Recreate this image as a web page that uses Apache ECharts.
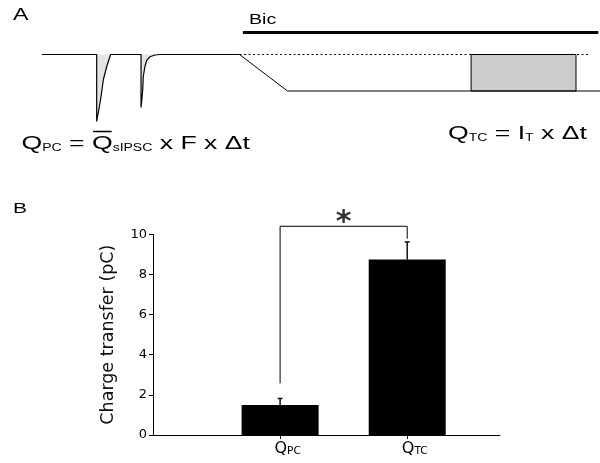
<!DOCTYPE html>
<html>
<head>
<meta charset="utf-8">
<script src="https://cdn.jsdelivr.net/npm/echarts@6/dist/echarts.min.js"></script>
<style>
  html, body { margin: 0; padding: 0; background: #fff; }
  #chart { width: 600px; height: 463px; }
</style>
</head>
<body>
<div id="chart"></div>
<script>
// ---- panel A : schematic traces (time in a.u., current in pA) ----
var sipscTrace = [
	[0, 0], [9.8, 0], [9.8, -67], [10.05, -66], [10.5, -45], [11.0, -25], [11.6, -12], [12.3, 0],
	[17.75, 0], [17.75, -53], [17.95, -52], [18.05, -35.5], [18.15, -22], [18.45, -12], [18.75, -6],
	[19.35, -2.2], [20.25, -0.5], [21.15, 0], [35.4, 0]
];
var bicTrace = [[35.4, 0], [44.0, -36.5], [100, -36.5]];
var baselineRef = [[35.4, 0], [98.2, 0]];
var bicBar = [[36.0, 22], [99.7, 22]];
var tonicWindow = [76.9, 95.7];
var tonicLevel = -36.5;

// ---- panel B : charge transfer ----
var catPos = [1, 2];
var catSub = ['PC', 'TC'];
var charge = [1.5, 8.75];
var chargeErr = [0.32, 0.87];
var bracketTop = 10.4;
var bracketFeet = [2.57, 9.78];
var starY = 10.95;

var chart = echarts.init(document.getElementById('chart'));

var barData = [];
var errData = [];
for (var i = 0; i < catPos.length; i++) {
	barData.push([catPos[i], charge[i]]);
	errData.push([catPos[i], charge[i], charge[i] + chargeErr[i]]);
}
var bracket = [
	[catPos[0], bracketFeet[0]], [catPos[0], bracketTop],
	[catPos[1], bracketTop], [catPos[1], bracketFeet[1]]
];

var stretch = 1.4;  // the original figure is drawn horizontally stretched
var mainFont = '19px "Liberation Sans"';
var subFont = '10px "Liberation Sans"';

// overline over the mean Q: measure where the second Q lands
var ctx = document.createElement('canvas').getContext('2d');
function textW(t, font) {
	ctx.font = font;
	return ctx.measureText(t).width;
}
var eqX = 21.5;
var olStart = eqX + stretch * (textW('Q', mainFont) + textW('PC', subFont) + textW(' = ', mainFont));
var olEnd = olStart + stretch * textW('Q', mainFont);

var eqRich = {
	m: { font: mainFont, fill: '#000', verticalAlign: 'bottom', lineHeight: 22 },
	s: { font: subFont, fill: '#000', verticalAlign: 'bottom', lineHeight: 22 }
};

var option = {
	backgroundColor: '#fff',
	animation: false,
	textStyle: { fontFamily: 'Liberation Sans' },
	grid: [
		{ left: 42, right: 0, top: 24.5, height: 100 },
		{ left: 153, right: 100, top: 234.3, bottom: 28 }
	],
	xAxis: [
		{ gridIndex: 0, type: 'value', min: 0, max: 100, show: false },
		{
			gridIndex: 1, type: 'value', min: 0, max: 2.73,
			splitLine: { show: false },
			axisLine: { lineStyle: { color: '#000', width: 1 } },
			axisTick: { customValues: catPos, length: 4, lineStyle: { color: '#000' } },
			axisLabel: {
				customValues: catPos,
				margin: 5,
				formatter: function (v) {
					var k = catPos.indexOf(v);
					return '{g|}{q|Q}{s|' + catSub[k] + '}';
				},
				rich: {
					g: { width: 15 },
					q: { fontFamily: 'DejaVu Sans', fontSize: 16, color: '#000', verticalAlign: 'bottom', lineHeight: 17 },
					s: { fontFamily: 'DejaVu Sans', fontSize: 10.5, color: '#000', verticalAlign: 'bottom', lineHeight: 17 }
				}
			}
		}
	],
	yAxis: [
		{ gridIndex: 0, type: 'value', min: -70, max: 30, show: false },
		{
			gridIndex: 1, type: 'value', min: 0, max: 10, interval: 2,
			name: 'Charge transfer (pC)',
			nameLocation: 'middle',
			nameGap: 36,
			nameTextStyle: { fontFamily: 'DejaVu Sans', fontSize: 17.5, color: '#111' },
			splitLine: { show: false },
			axisLine: { show: true, lineStyle: { color: '#000', width: 1 } },
			axisTick: { show: true, length: 4, lineStyle: { color: '#000' } },
			axisLabel: { fontFamily: 'DejaVu Sans', fontSize: 13, color: '#000', margin: 6 }
		}
	],
	graphic: [
		{ type: 'text', x: 13, y: 15, scaleX: stretch, style: { text: 'A', font: '16.5px "Liberation Sans"', fill: '#000', verticalAlign: 'middle' } },
		{ type: 'text', x: 249, y: 20, scaleX: stretch, style: { text: 'Bic', font: '14px "Liberation Sans"', fill: '#000', verticalAlign: 'middle' } },
		{ type: 'text', x: 13, y: 208.5, scaleX: stretch, style: { text: 'B', font: '15px "Liberation Sans"', fill: '#000', verticalAlign: 'middle' } },
		{
			type: 'text', x: eqX, y: 153, scaleX: stretch,
			style: {
				text: '{m|Q}{s|PC}{m| = Q}{s|sIPSC}{m| x F x \u0394t}',
				verticalAlign: 'bottom',
				rich: eqRich
			}
		},
		{ type: 'line', shape: { x1: olStart + 1, y1: 131.5, x2: olEnd - 1, y2: 131.5 }, style: { stroke: '#000', lineWidth: 1.5 } },
		{
			type: 'text', x: 448, y: 143, scaleX: stretch,
			style: {
				text: '{m|Q}{s|TC}{m| = I}{s|T}{m| x \u0394t}',
				verticalAlign: 'bottom',
				rich: eqRich
			}
		}
	],
	series: [
		{
			name: 'sIPSCs', type: 'line', xAxisIndex: 0, yAxisIndex: 0,
			data: sipscTrace, symbol: 'none', silent: true,
			lineStyle: { color: '#000', width: 1.2 },
			areaStyle: { color: '#e4e4e4', opacity: 1 }
		},
		{
			name: 'Bic', type: 'line', xAxisIndex: 0, yAxisIndex: 0,
			data: bicTrace, symbol: 'none', silent: true,
			lineStyle: { color: '#000', width: 1 },
			markArea: {
				silent: true,
				itemStyle: { color: '#cccccc', borderColor: '#000', borderWidth: 1 },
				data: [[{ xAxis: tonicWindow[0], yAxis: tonicLevel }, { xAxis: tonicWindow[1], yAxis: 0 }]]
			}
		},
		{
			name: 'baseline', type: 'line', xAxisIndex: 0, yAxisIndex: 0,
			data: baselineRef, symbol: 'none', silent: true, z: 3,
			lineStyle: { color: '#000', width: 1, type: [2, 2.5] }
		},
		{
			name: 'Bic bar', type: 'line', xAxisIndex: 0, yAxisIndex: 0,
			data: bicBar, symbol: 'none', silent: true,
			lineStyle: { color: '#000', width: 3 }
		},
		{
			name: 'charge', type: 'bar', xAxisIndex: 1, yAxisIndex: 1,
			data: barData, barWidth: 77,
			itemStyle: { color: '#000' }
		},
		{
			name: 'sem', type: 'custom', xAxisIndex: 1, yAxisIndex: 1,
			data: errData, z: 3,
			renderItem: function (params, api) {
				var p0 = api.coord([api.value(0), api.value(1)]);
				var p1 = api.coord([api.value(0), api.value(2)]);
				var st = { stroke: '#111', lineWidth: 1.5 };
				return {
					type: 'group',
					children: [
						{ type: 'line', shape: { x1: p0[0], y1: p0[1], x2: p1[0], y2: p1[1] }, style: st },
						{ type: 'line', shape: { x1: p1[0] - 2.5, y1: p1[1], x2: p1[0] + 2.5, y2: p1[1] }, style: st }
					]
				};
			}
		},
		{
			name: 'bracket', type: 'line', xAxisIndex: 1, yAxisIndex: 1,
			data: bracket, symbol: 'none', clip: false, silent: true,
			lineStyle: { color: '#000', width: 1 }
		},
		{
			name: 'star', type: 'scatter', xAxisIndex: 1, yAxisIndex: 1,
			data: [[(catPos[0] + catPos[1]) / 2, starY]], symbolSize: 0, clip: false, silent: true,
			label: {
				show: true, position: 'inside', formatter: '*',
				fontFamily: 'DejaVu Sans', fontWeight: 'bold', fontSize: 30, color: '#000',
				offset: [0, 8]
			}
		}
	]
};

chart.setOption(option);
</script>
</body>
</html>
